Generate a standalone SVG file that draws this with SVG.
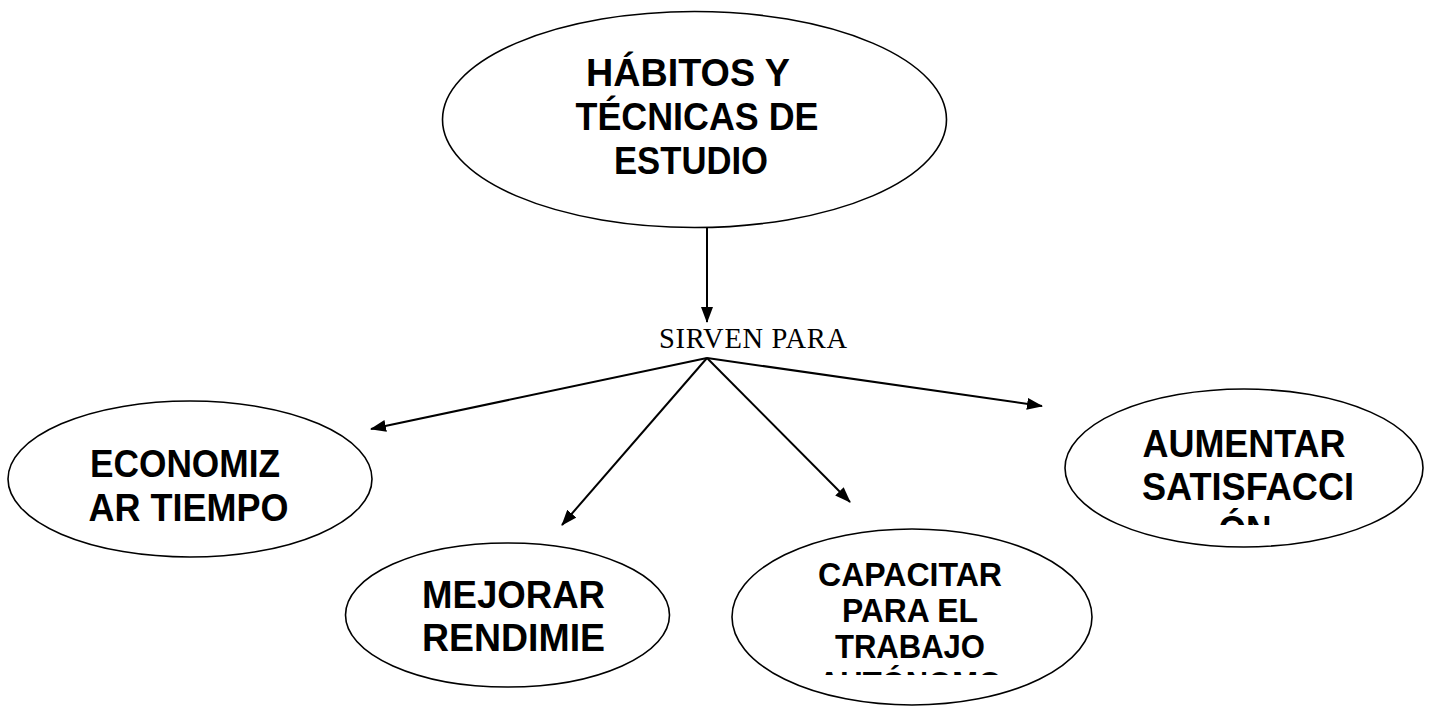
<svg xmlns="http://www.w3.org/2000/svg" width="1437" height="708" viewBox="0 0 1437 708">
<style>
.node ellipse{fill:#fff;stroke:#000;stroke-width:1.6}
.lbl{font-family:"Liberation Sans",Arial,sans-serif;font-weight:bold;fill:#000;text-anchor:middle}
.big{font-size:38px}
.small{font-size:33.5px}
.conn line{stroke:#000;stroke-width:2}
.serif{font-family:"Liberation Serif","Times New Roman",serif;fill:#000}
</style>
<defs>
<marker id="arr" markerUnits="userSpaceOnUse" markerWidth="16" markerHeight="12" refX="15" refY="6" orient="auto">
<path d="M0,0 L16,6 L0,12 z" fill="#000"/>
</marker>
<clipPath id="clipCap"><rect x="732" y="520" width="360" height="155"/></clipPath>
<clipPath id="clipAum"><rect x="1065" y="380" width="360" height="145"/></clipPath>
</defs>
<rect width="1437" height="708" fill="#fff"/>
<g id="connectors" class="conn">
<line x1="707" y1="228" x2="707" y2="322" marker-end="url(#arr)"/>
<line x1="707" y1="358" x2="371" y2="429" marker-end="url(#arr)"/>
<line x1="707" y1="358" x2="562" y2="525" marker-end="url(#arr)"/>
<line x1="707" y1="358" x2="850" y2="502" marker-end="url(#arr)"/>
<line x1="707" y1="358" x2="1042" y2="406" marker-end="url(#arr)"/>
</g>
<g id="label-sirven">
<text class="serif" x="659" y="348" font-size="28.5" textLength="188">SIRVEN PARA</text>
</g>
<g id="node-habitos" class="node">
<ellipse cx="694.5" cy="119.5" rx="252" ry="108"/>
<text class="lbl big" x="688" y="86" textLength="204" lengthAdjust="spacingAndGlyphs">HÁBITOS Y</text>
<text class="lbl big" x="697" y="130" textLength="243" lengthAdjust="spacingAndGlyphs">TÉCNICAS DE</text>
<text class="lbl big" x="691" y="174" textLength="154" lengthAdjust="spacingAndGlyphs">ESTUDIO</text>
</g>
<g id="node-economizar" class="node">
<ellipse cx="190" cy="479" rx="182" ry="78"/>
<text class="lbl big" x="185" y="477" textLength="190" lengthAdjust="spacingAndGlyphs">ECONOMIZ</text>
<text class="lbl big" x="188.5" y="521" textLength="200" lengthAdjust="spacingAndGlyphs">AR TIEMPO</text>
</g>
<g id="node-mejorar" class="node">
<ellipse cx="507.5" cy="615" rx="162" ry="72"/>
<text class="lbl big" x="513.5" y="608" textLength="183" lengthAdjust="spacingAndGlyphs">MEJORAR</text>
<text class="lbl big" x="513.5" y="651" textLength="183" lengthAdjust="spacingAndGlyphs">RENDIMIE</text>
</g>
<g id="node-capacitar" class="node">
<ellipse cx="912" cy="617" rx="180" ry="88"/>
<g clip-path="url(#clipCap)">
<text class="lbl small" x="910" y="586" textLength="184" lengthAdjust="spacingAndGlyphs">CAPACITAR</text>
<text class="lbl small" x="910" y="622" textLength="136" lengthAdjust="spacingAndGlyphs">PARA EL</text>
<text class="lbl small" x="910" y="658" textLength="150" lengthAdjust="spacingAndGlyphs">TRABAJO</text>
<text class="lbl small" x="910" y="695" textLength="184" lengthAdjust="spacingAndGlyphs">AUTÓNOMO</text>
</g>
</g>
<g id="node-aumentar" class="node">
<ellipse cx="1244" cy="468" rx="179" ry="79"/>
<g clip-path="url(#clipAum)">
<text class="lbl big" x="1244" y="457" textLength="203" lengthAdjust="spacingAndGlyphs">AUMENTAR</text>
<text class="lbl big" x="1248" y="500" textLength="212" lengthAdjust="spacingAndGlyphs">SATISFACCI</text>
<text class="lbl big" x="1245" y="543" textLength="53" lengthAdjust="spacingAndGlyphs">ÓN</text>
</g>
</g>
</svg>
